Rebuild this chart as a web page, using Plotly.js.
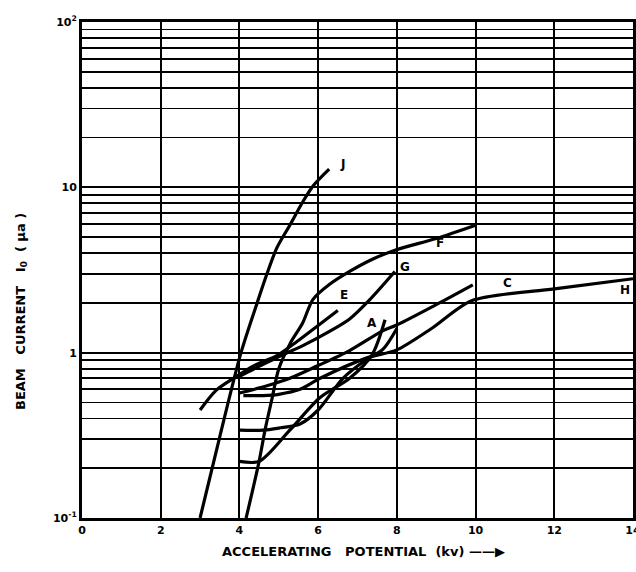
<!DOCTYPE html>
<html>
<head>
<meta charset="utf-8">
<script src="https://cdn.plot.ly/plotly-3.0.1.min.js"></script>
<style>html,body{margin:0;padding:0;background:#fff;}#chart{width:636px;height:572px;}</style>
</head>
<body>
<div id="chart"></div>
<script>
// Curves (x: accelerating potential kV, y: beam current μa)
const jX = [3.0, 3.5, 4.04, 4.45, 4.7, 4.95, 5.28, 5.6, 5.87, 6.28];
const jY = [0.1, 0.31, 1.0, 2.0, 3.0, 4.3, 5.9, 8.1, 10.2, 12.9];

const fX = [4.17, 4.5, 4.65, 4.83, 5.0, 5.3, 5.6, 5.87, 6.3, 6.8, 7.3, 7.95, 9.0, 10.0];
const fY = [0.1, 0.22, 0.34, 0.53, 0.8, 1.15, 1.5, 2.1, 2.6, 3.1, 3.6, 4.17, 4.9, 5.9];

const eX = [3.0, 3.4, 3.85, 4.35, 4.95, 5.36, 5.9, 6.5];
const eY = [0.45, 0.59, 0.7, 0.83, 0.96, 1.12, 1.4, 1.8];

const gX = [4.0, 4.6, 5.1, 5.6, 6.3, 6.8, 7.3, 7.95];
const gY = [0.72, 0.85, 0.97, 1.1, 1.35, 1.6, 2.08, 3.1];

const cX = [4.0, 4.7, 5.28, 5.97, 6.8, 7.65, 8.0, 9.0, 9.93];
const cY = [0.57, 0.63, 0.7, 0.83, 1.03, 1.36, 1.47, 1.95, 2.57];

const hX = [4.1, 4.6, 5.0, 5.54, 6.05, 7.24, 8.0, 8.9, 9.9, 12.0, 14.0];
const hY = [0.55, 0.55, 0.56, 0.6, 0.7, 0.93, 1.04, 1.41, 2.06, 2.43, 2.8];

const aX = [4.0, 4.5, 5.28, 6.05, 6.8, 7.37, 7.7];
const aY = [0.22, 0.22, 0.34, 0.535, 0.7, 0.97, 1.58];

const bX = [4.0, 4.6, 5.0, 5.54, 6.0, 6.63, 7.2, 7.65, 8.0];
const bY = [0.34, 0.34, 0.35, 0.37, 0.45, 0.7, 0.9, 1.05, 1.4];

const curveLabels = ["J", "F", "G", "E", "C", "H", "A"];
const labelX = [6.63, 9.1, 8.2, 6.66, 10.8, 13.8, 7.37];
const labelY = [13.9, 4.6, 3.3, 2.23, 2.64, 2.4, 1.52];

const xTicks = [0, 2, 4, 6, 8, 10, 12, 14];
const yDecadeText = {"0.1": "10<sup>-1</sup>", "1": "1", "10": "10", "100": "10<sup>2</sup>"};

const yVals = [];
const yText = [];
[0.1, 1, 10].forEach(d => {
  for (let k = 1; k <= 9; k++) {
    const v = +(d * k).toPrecision(3);
    yVals.push(v);
    yText.push(k === 1 ? yDecadeText[String(d)] : "");
  }
});
yVals.push(100); yText.push(yDecadeText["100"]);

const series = [[jX, jY], [fX, fY], [eX, eY], [gX, gY], [cX, cY], [hX, hY], [aX, aY], [bX, bY]];
const traces = series.map(s => ({
  x: s[0], y: s[1], type: "scatter", mode: "lines",
  line: {color: "#000", width: 3.2, shape: "spline", smoothing: 0.8},
  hoverinfo: "skip", showlegend: false
}));

const annotations = curveLabels.map((t, i) => ({
  x: labelX[i], y: Math.log10(labelY[i]), xref: "x", yref: "y",
  text: "<b>" + t + "</b>", showarrow: false,
  font: {family: "DejaVu Sans", size: 12, color: "#000"}
}));
annotations.push({
  xref: "paper", yref: "paper", x: 0.51, y: -0.0685, yanchor: "middle", xanchor: "center",
  text: "<b>ACCELERATING   POTENTIAL  (kv) ——▶</b>", showarrow: false,
  font: {family: "DejaVu Sans", size: 13, color: "#000"}
});
annotations.push({
  xref: "paper", yref: "paper", x: -0.111, y: 0.417, xanchor: "center", yanchor: "middle", textangle: -90,
  text: "<b>BEAM   CURRENT   I<sub>0</sub>  ( μa )</b>", showarrow: false,
  font: {family: "DejaVu Sans", size: 13, color: "#000"}
});

const layout = {
  width: 636, height: 572,
  margin: {l: 82, r: 3, t: 22, b: 54},
  paper_bgcolor: "#fff", plot_bgcolor: "#fff",
  showlegend: false,
  xaxis: {
    range: [0, 14], tickvals: xTicks, ticktext: xTicks.map(String),
    showgrid: true, gridcolor: "#000", gridwidth: 2,
    showline: true, linecolor: "#000", linewidth: 3, mirror: true,
    zeroline: false, ticks: "", ticklen: 0, ticklabeloverflow: "allow",
    tickfont: {family: "DejaVu Sans", size: 11, color: "#000", weight: "bold"}
  },
  yaxis: {
    type: "log", range: [-1, 2], tickvals: yVals, ticktext: yText,
    showgrid: true, gridcolor: "#000", gridwidth: 1.8,
    showline: true, linecolor: "#000", linewidth: 3, mirror: true,
    zeroline: false, ticks: "", ticklen: 0,
    tickfont: {family: "DejaVu Sans", size: 11, color: "#000", weight: "bold"}
  },
  annotations: annotations
};

Plotly.newPlot("chart", traces, layout, {displayModeBar: false, staticPlot: true});
</script>
</body>
</html>
